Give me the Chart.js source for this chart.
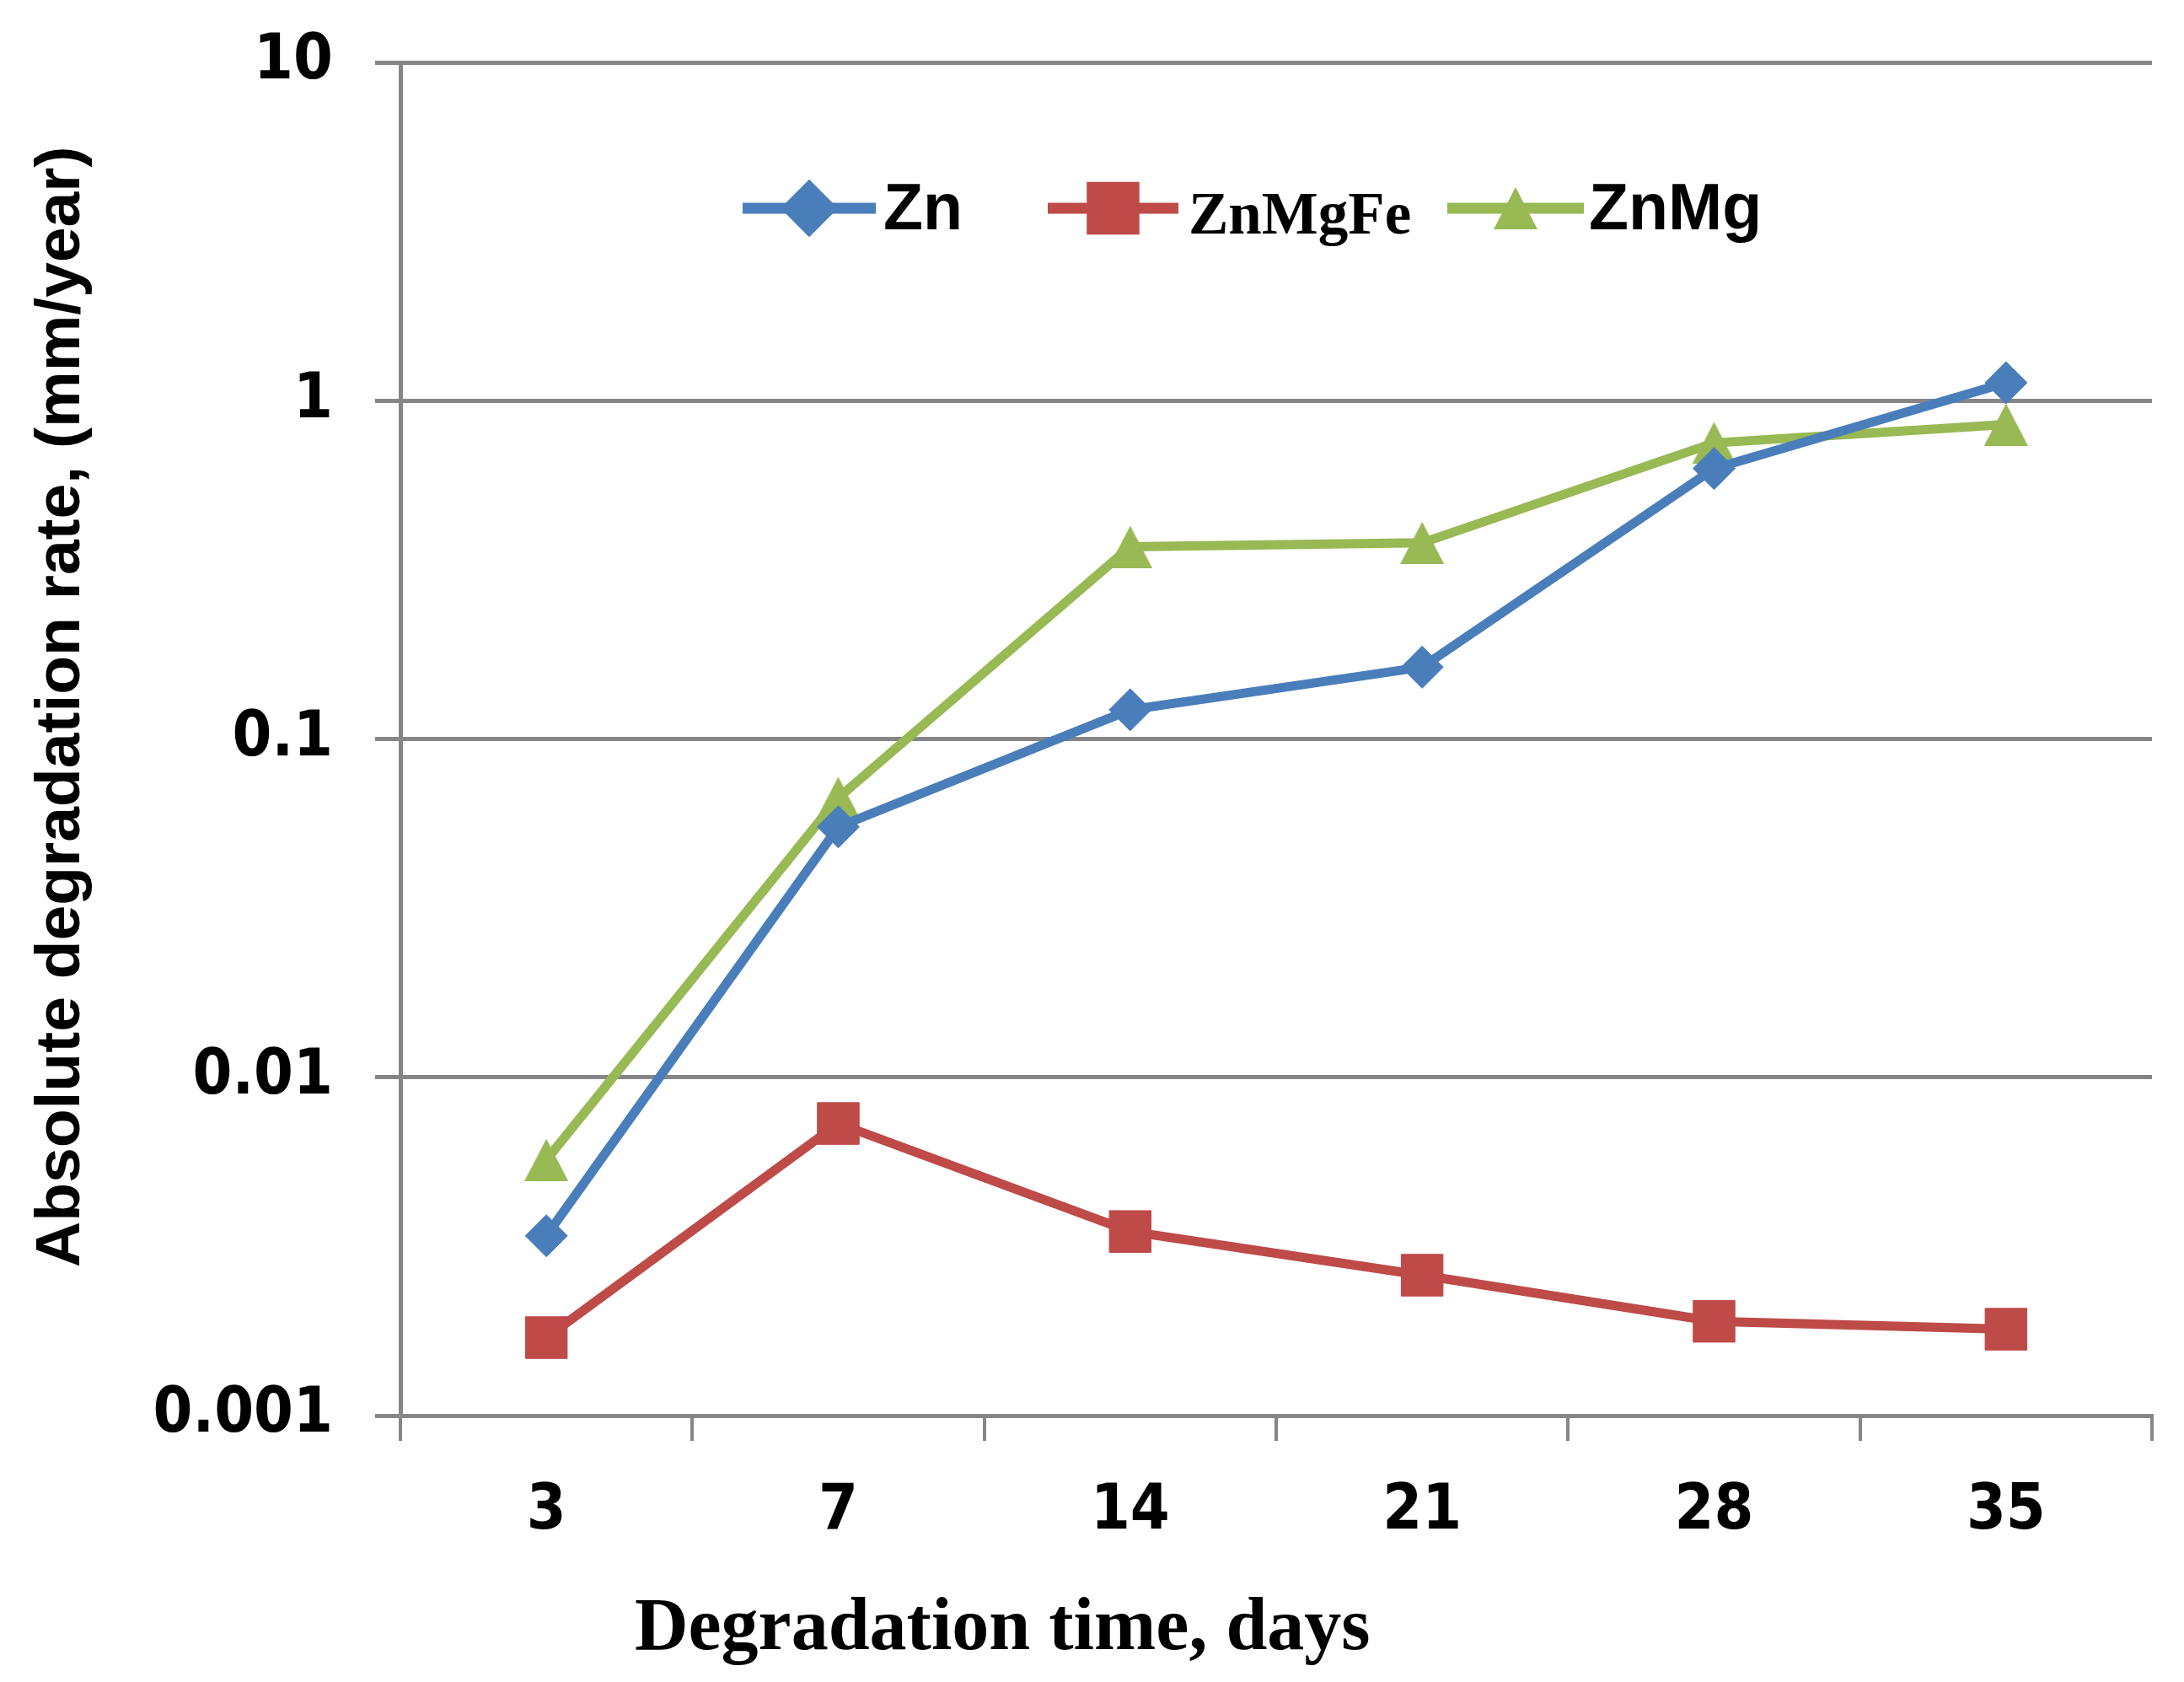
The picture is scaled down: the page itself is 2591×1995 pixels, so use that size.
<!DOCTYPE html>
<html>
<head>
<meta charset="utf-8">
<script src="https://cdn.jsdelivr.net/npm/chart.js@4/dist/chart.umd.min.js"></script>
<style>
  html, body { margin: 0; padding: 0; background: #fff; }
  #wrap { position: relative; width: 2591px; height: 1995px; }
</style>
</head>
<body>
<div id="wrap"><canvas id="chart"></canvas></div>
<script>
// Datos (escala logarítmica)
const days = ['3', '7', '14', '21', '28', '35'];
const zn = [0.0034, 0.055, 0.122, 0.163, 0.63, 1.13];
const znMgFe = [0.0017, 0.0073, 0.0035, 0.0026, 0.0019, 0.0018];
const znMg = [0.0057, 0.067, 0.37, 0.38, 0.75, 0.85];
const yTicks = [0.001, 0.01, 0.1, 1, 10];

const GRID = '#868686';
const BLUE = '#4A7EBB', RED = '#BE4B48', GREEN = '#98B954';
const TICKFONT = '"DejaVu Sans Condensed", "DejaVu Sans", sans-serif';
const ARIAL = '"Liberation Sans", Arial, sans-serif';
const SERIF = '"Liberation Serif", serif';

// triángulo centrado por su caja (como en Excel), no por el centroide
function makeTriangle(color, w, h) {
    const c = document.createElement('canvas');
    c.width = w; c.height = h;
    const g = c.getContext('2d');
    g.fillStyle = color;
    g.beginPath();
    g.moveTo(w / 2, 0);
    g.lineTo(w, h);
    g.lineTo(0, h);
    g.closePath();
    g.fill();
    return c;
}
const triangle = makeTriangle(GREEN, 52, 50);

// Leyenda dibujada a mano (fuentes mezcladas como en el original)
const legendItems = [
    { idx: 0, x0: 881, x1: 1039, textX: 1048, base: 272, font: 'bold 77px ' + ARIAL },
    { idx: 1, x0: 1243, x1: 1398, textX: 1410, base: 277, font: 'bold 71px ' + SERIF },
    { idx: 2, x0: 1717, x1: 1879, textX: 1885, base: 272, font: 'bold 77px ' + ARIAL }
];

const titlesPlugin = {
    id: 'titles',
    afterDraw(chart) {
        const ctx = chart.ctx;
        ctx.save();
        ctx.fillStyle = '#000';
        // título eje Y
        ctx.translate(94, 1503);
        ctx.rotate(-Math.PI / 2);
        ctx.font = 'bold 75px ' + ARIAL;
        ctx.textAlign = 'left';
        ctx.textBaseline = 'alphabetic';
        ctx.fillText('Absolute degradation rate, (mm/year)', 0, 0);
        ctx.restore();

        ctx.save();
        ctx.fillStyle = '#000';
        ctx.font = 'bold 88px ' + SERIF;
        ctx.textAlign = 'left';
        ctx.textBaseline = 'alphabetic';
        ctx.fillText('Degradation time, days', 753, 1956);
        ctx.restore();

        // leyenda
        const ly = 247;
        legendItems.forEach(item => {
            const ds = chart.data.datasets[item.idx];
            ctx.save();
            ctx.strokeStyle = ds.borderColor;
            ctx.lineWidth = ds.borderWidth + 2;
            ctx.beginPath();
            ctx.moveTo(item.x0, ly);
            ctx.lineTo(item.x1, ly);
            ctx.stroke();
            ctx.fillStyle = ds.pointBackgroundColor;
            ctx.strokeStyle = ds.pointBorderColor;
            Chart.helpers.drawPoint(ctx, {
                pointStyle: ds.pointStyle,
                radius: ds.pointRadius,
                rotation: 0,
                borderWidth: 1
            }, (item.x0 + item.x1) / 2, ly);
            ctx.fillStyle = '#000';
            ctx.font = item.font;
            ctx.textAlign = 'left';
            ctx.textBaseline = 'alphabetic';
            ctx.fillText(ds.label, item.textX, item.base);
            ctx.restore();
        });
    }
};

new Chart(document.getElementById('chart'), {
    type: 'line',
    data: {
        labels: days,
        datasets: [
            {
                label: 'Zn', data: zn,
                borderColor: BLUE, backgroundColor: BLUE,
                pointBackgroundColor: BLUE, pointBorderColor: BLUE,
                pointStyle: 'rectRot', pointRadius: 25, pointBorderWidth: 1, borderWidth: 11
            },
            {
                label: 'ZnMgFe', data: znMgFe,
                borderColor: RED, backgroundColor: RED,
                pointBackgroundColor: RED, pointBorderColor: RED,
                pointStyle: 'rect', pointRadius: 35, pointBorderWidth: 1, borderWidth: 11
            },
            {
                label: 'ZnMg', data: znMg,
                borderColor: GREEN, backgroundColor: GREEN,
                pointBackgroundColor: GREEN, pointBorderColor: GREEN,
                pointStyle: triangle, pointRadius: 26, borderWidth: 11
            }
        ]
    },
    options: {
        responsive: true,
        maintainAspectRatio: false,
        animation: false,
        devicePixelRatio: 1,
        layout: { padding: { top: 74, right: 38, left: 0, bottom: 0 } },
        plugins: {
            legend: { display: false },
            tooltip: { enabled: false }
        },
        scales: {
            x: {
                offset: true,
                grid: { offset: true, drawOnChartArea: false, color: GRID, lineWidth: 4, tickLength: 30 },
                border: { color: GRID, width: 5 },
                ticks: { color: '#000', font: { family: TICKFONT, size: 75, weight: 'bold' }, padding: 40 },
                afterFit(scale) { scale.height = 1995 - 1679; }
            },
            y: {
                type: 'logarithmic',
                min: 0.001,
                max: 10,
                afterBuildTicks(scale) { scale.ticks = yTicks.map(v => ({ value: v })); },
                grid: { color: GRID, lineWidth: 5, tickLength: 30 },
                border: { color: GRID, width: 5 },
                ticks: {
                    color: '#000',
                    font: { family: TICKFONT, size: 75, weight: 'bold' },
                    padding: 50,
                    callback: v => String(v)
                },
                afterFit(scale) {
                    scale.width = 475;
                    // que la etiqueta "10" no empuje el área del gráfico hacia abajo
                    scale.paddingTop = 0;
                    scale.paddingBottom = 0;
                }
            }
        }
    },
    plugins: [titlesPlugin]
});
</script>
</body>
</html>
